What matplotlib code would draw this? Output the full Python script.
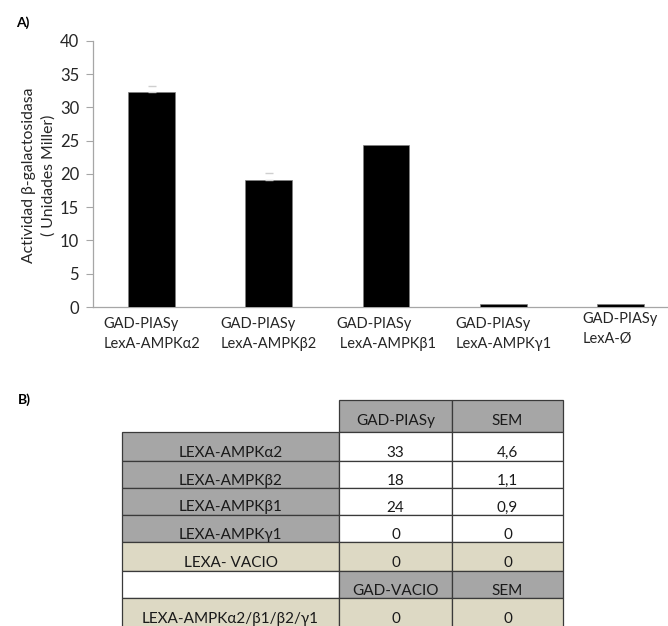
import matplotlib
matplotlib.use("Agg")
import matplotlib.pyplot as plt
import matplotlib.transforms as mtransforms
from matplotlib.patches import Rectangle

plt.rcParams['font.family'] = ['Lato', 'DejaVu Sans']

# ---- Panel A data ----
categories = [
    "GAD-PIASy\nLexA-AMPKα2",
    "GAD-PIASy\nLexA-AMPKβ2",
    "GAD-PIASy\n LexA-AMPKβ1",
    "GAD-PIASy\nLexA-AMPKγ1",
    "GAD-PIASy\nLexA-Ø",
]
activity = [32.3, 19.1, 24.4, 0.4, 0.4]
activity_err = [1.0, 1.0, 0.0, 0.0, 0.0]
y_ticks = [0, 5, 10, 15, 20, 25, 30, 35, 40]

# ---- Panel B table data ----
header_top = ["", "GAD-PIASy", "SEM"]
row_labels = ["LEXA-AMPKα2", "LEXA-AMPKβ2", "LEXA-AMPKβ1", "LEXA-AMPKγ1", "LEXA- VACIO"]
piasy_vals = ["33", "18", "24", "0", "0"]
piasy_sem = ["4,6", "1,1", "0,9", "0", "0"]
header_mid = ["", "GAD-VACIO", "SEM"]
last_label = "LEXA-AMPKα2/β1/β2/γ1"
vacio_vals = ["0"]
vacio_sem = ["0"]

W, H = 668, 626
fig = plt.figure(figsize=(W / 100, H / 100), dpi=100)

# ---------------- Panel A: bar chart ----------------
ax = fig.add_axes([93 / W, 1 - 307 / H, 586 / W, 266 / H])
x = list(range(len(categories)))
ax.bar(x, activity, width=0.4, color="black", edgecolor="#7f7f7f", linewidth=0.5, zorder=2)
err_idx = [i for i, e in enumerate(activity_err) if e > 0]
ax.errorbar([x[i] for i in err_idx], [activity[i] for i in err_idx],
            yerr=[[0] * len(err_idx), [activity_err[i] for i in err_idx]], fmt="none",
            ecolor="#cfcfcf", elinewidth=0, capsize=3, capthick=1, zorder=3)
ax.set_xlim(-0.5, len(categories) - 0.5)
ax.set_ylim(0, 40)
ax.set_yticks(y_ticks)
ax.set_yticklabels([str(t) for t in y_ticks], fontsize=12, color="#262626")
ax.set_xticks(x)
ax.set_xticklabels(categories, fontsize=10.5, color="#262626", linespacing=1.55,
                   multialignment="left")
ax.tick_params(axis="x", length=0, pad=7)
ax.tick_params(axis="y", length=5, width=0.8, color="#a6a6a6", direction="out", pad=5)
for side in ("top", "right"):
    ax.spines[side].set_visible(False)
for side in ("left", "bottom"):
    ax.spines[side].set_color("#a6a6a6")
    ax.spines[side].set_linewidth(0.9)
ax.spines["bottom"].set_zorder(1)

# last label sits a little higher
last = ax.get_xticklabels()[-1]
last.set_transform(last.get_transform() + mtransforms.ScaledTranslation(0, 5 / 100, fig.dpi_scale_trans))

fig.text(39 / W, 1 - 175 / H, "Actividad β-galactosidasa\n( Unidades Miller)", rotation=90,
         ha="center", va="center", multialignment="center", fontsize=11.3, color="#262626",
         linespacing=1.5)

fig.text(23 / W, 1 - 23 / H, "A)", fontsize=10, fontweight="bold", ha="center", va="center")
fig.text(24 / W, 1 - 400 / H, "B)", fontsize=10, fontweight="bold", ha="center", va="center")

# ---------------- Panel B: table ----------------
tax = fig.add_axes([0, 0, 1, 1])
tax.set_xlim(0, W)
tax.set_ylim(H, 0)
tax.axis("off")

GRAY = "#a6a6a6"
BEIGE = "#ddd9c4"
WHITE = "#ffffff"
EDGE = "#3a3a3a"

col_edges = [122, 339, 452, 563]
row_edges = [400, 431.7, 460.7, 488.3, 515, 542.3, 570.7, 598.3, 640]

rows = [header_top]
for lab, v, s in zip(row_labels, piasy_vals, piasy_sem):
    rows.append([lab, v, s])
rows.append(header_mid)
rows.append([last_label, vacio_vals[0], vacio_sem[0]])

fills = [
    [None, GRAY, GRAY],
    [GRAY, WHITE, WHITE],
    [GRAY, WHITE, WHITE],
    [GRAY, WHITE, WHITE],
    [GRAY, WHITE, WHITE],
    [BEIGE, BEIGE, BEIGE],
    [WHITE, GRAY, GRAY],
    [BEIGE, BEIGE, BEIGE],
]

for r, row in enumerate(rows):
    y0, y1 = row_edges[r], row_edges[r + 1]
    for c, txt in enumerate(row):
        x0, x1 = col_edges[c], col_edges[c + 1]
        fc = fills[r][c]
        if fc is None:
            continue
        tax.add_patch(Rectangle((x0, y0), x1 - x0, y1 - y0, facecolor=fc,
                                edgecolor=EDGE, linewidth=0.9))
        if txt:
            tb = min(y1, row_edges[r] + 28.5)
            tax.text((x0 + x1) / 2, tb - 3.5, txt, ha="center", va="baseline",
                     fontsize=11, color="#1a1a1a")

fig.savefig("out.png", dpi=100)
